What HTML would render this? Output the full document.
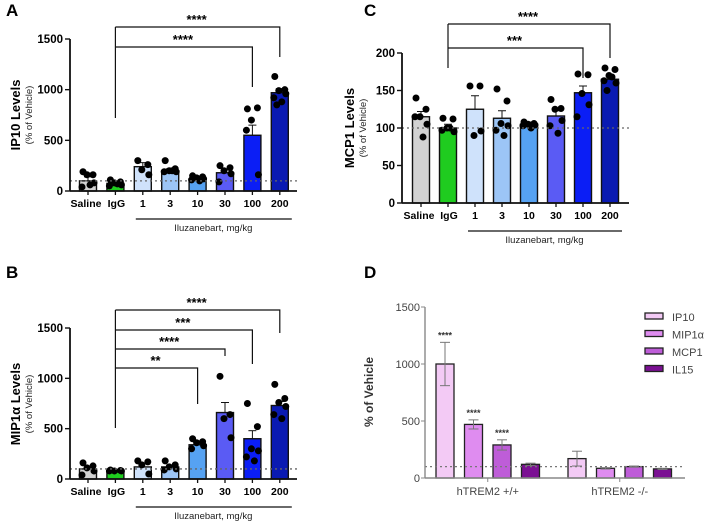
<!DOCTYPE html>
<html><head><meta charset="utf-8"><style>
body{margin:0;background:#fff;width:708px;height:523px;overflow:hidden}
svg{display:block;font-family:"Liberation Sans",Arial,sans-serif}
</style></head><body>
<svg id="s" width="708" height="523"></svg>
<script>
const cats = ["Saline","IgG","1","3","10","30","100","200"];
const barColors = ["#d2d2d2","#1fcc1f","#cfe2fb","#9cc5f6","#56a2f2","#5a5bf4","#0b1ef5","#0a1ab2"];
const aVals = [100,75,240,200,120,180,550,970];
const aErr = [40,15,40,20,15,35,100,40];
const aPts = [[190,160,160,80,40,60],[110,90,80,60,50,70],[300,260,210,160],[300,220,200,190,190,200],[150,140,130,120,110,100],[250,230,200,170,90],[810,820,700,160,600],[1130,1000,990,960,920,880,850]];
const cVals = [115,100,125,113,105,116,147,165];
const cErr = [7,5,18,10,3,7,9,4];
const cPts = [[140,125,115,105,115,88],[113,112,100,95,97,100],[156,156,90,96],[152,136,106,103,97,90],[108,106,105,104,103,100],[138,126,125,110,103,93],[172,171,146,131,115],[180,178,170,160,163,168,150]];
const bVals = [100,80,120,120,340,660,400,730];
const bErr = [20,10,30,20,25,100,80,40];
const bPts = [[160,130,110,80,40],[90,85,80,80,80],[180,170,140,50],[180,140,120,100,90],[400,370,360,330,300],[1020,640,600,410],[750,520,300,280,220,180],[940,800,760,720,640,600]];
const dGroups = ["hTREM2 +/+","hTREM2 -/-"];
const dSeries = ["IP10","MIP1α","MCP1","IL15"];
const dColors = ["#f3caf5","#df8cf0","#be5dd8","#7b1093"];
const dVals = [[1000,470,290,120],[170,85,100,80]];
const dErr = [[190,40,45,10],[65,6,5,5]];
const jit = [-5,5,-1,6,-6,2,-3];

const S=document.getElementById('s');const NS='http://www.w3.org/2000/svg';
function el(t,a,p){const e=document.createElementNS(NS,t);for(const k in a)e.setAttribute(k,a[k]);(p||S).appendChild(e);return e;}
function txt(x,y,s,a,p){const e=el('text',Object.assign({x:x,y:y},a),p);e.textContent=s;return e;}

function panel(o){
  const g=el('g',{});
  
  
  const y=v=>o.y0-(v/o.max)*(o.y0-o.y1);
  const x=i=>o.xs+i*o.step;
  const lab=txt(o.lx,o.ly,o.letter,{'font-size':17,'font-weight':'bold'},g);
  
  o.vals.forEach((v,i)=>{
    const r=el('rect',{x:x(i)-8.5,y:y(v),width:17,height:o.y0-y(v),fill:barColors[i],stroke:'#111','stroke-width':1.4},g);
    
    const e=o.err[i];
    el('line',{x1:x(i),x2:x(i),y1:y(v),y2:y(v+e),stroke:'#111','stroke-width':1},g);
    el('line',{x1:x(i)-4,x2:x(i)+4,y1:y(v+e),y2:y(v+e),stroke:'#111','stroke-width':1},g);
    o.pts[i].forEach((p,j)=>{
      const c=el('circle',{cx:x(i)+jit[j%jit.length],cy:y(p),r:3.5,fill:'#000'},g);
      
    });
  });
  el('line',{x1:o.ax,x2:o.axEnd,y1:y(100),y2:y(100),stroke:'#666','stroke-width':1.3,'stroke-dasharray':'2 3'},g);
  el('line',{x1:o.ax,x2:o.ax,y1:o.y1,y2:o.y0,stroke:'#111','stroke-width':1.8},g);
  el('line',{x1:o.ax,x2:o.axEnd,y1:o.y0,y2:o.y0,stroke:'#111','stroke-width':1.8},g);
  o.ticks.forEach(t=>{
    el('line',{x1:o.ax-5,x2:o.ax,y1:y(t),y2:y(t),stroke:'#111','stroke-width':1.4},g);
    txt(o.ax-7,y(t)+4,String(t),{'font-size':11.5,'font-weight':'bold','text-anchor':'end'},g);
  });
  cats.forEach((c,i)=>{
    el('line',{x1:x(i),x2:x(i),y1:o.y0,y2:o.y0+4,stroke:'#111','stroke-width':1.3},g);
    txt(x(i)+(i==0?-2:i==1?1:0),o.y0+16,c,{'font-size':10.5,'font-weight':'bold','text-anchor':'middle'},g);
  });
  el('line',{x1:x(2)-7,x2:x(7)+12,y1:o.y0+28,y2:o.y0+28,stroke:'#111','stroke-width':1.2},g);
  txt((x(2)+x(7))/2+2,o.y0+40,'Iluzanebart, mg/kg',{'font-size':9.5,'text-anchor':'middle',fill:'#222'},g);
  const yt=txt(0,0,o.ytitle,{'font-size':13,'font-weight':'bold','text-anchor':'middle',transform:`translate(${o.ytx},${o.ytc}) rotate(-90)`},g);
  
  txt(0,0,'(% of Vehicle)',{'font-size':9.5,'text-anchor':'middle',fill:'#222',transform:`translate(${o.ytx+12},${o.ytc}) rotate(-90)`},g);
  el('line',{x1:x(1),x2:x(1),y1:o.bLeft,y2:o.br[0].y,stroke:'#111','stroke-width':1.2},g);
  o.br.forEach(b=>{
    el('polyline',{points:`${x(1)},${b.y} ${x(b.to)},${b.y} ${x(b.to)},${b.drop}`,fill:'none',stroke:'#111','stroke-width':1.2},g);
    txt((x(1)+x(b.to))/2-1,b.y-3,b.s,{'font-size':13,'font-weight':'bold','text-anchor':'middle'},g);
  });
}
panel({name:'panel-a-ip10',letter:'A',lx:6,ly:16,vals:aVals,err:aErr,pts:aPts,max:1500,y0:191,y1:39,xs:88,step:27.4,ax:70,axEnd:297,ticks:[0,500,1000,1500],ytitle:'IP10 Levels',ytx:20,ytc:115,
 bLeft:118,br:[{y:27,to:7,drop:57,s:'****'},{y:47,to:6,drop:87,s:'****'}]});
panel({name:'panel-c-mcp1',letter:'C',lx:364,ly:16,vals:cVals,err:cErr,pts:cPts,max:200,y0:203,y1:53,xs:421,step:27,ax:402,axEnd:629,ticks:[0,50,100,150,200],ytitle:'MCP1 Levels',ytx:354,ytc:128,
 bLeft:68,br:[{y:24,to:7,drop:58,s:'****'},{y:48,to:6,drop:78,s:'***'}]});
panel({name:'panel-b-mip1a',letter:'B',lx:6,ly:278,vals:bVals,err:bErr,pts:bPts,max:1500,y0:479,y1:328,xs:88,step:27.4,ax:70,axEnd:297,ticks:[0,500,1000,1500],ytitle:'MIP1α Levels',ytx:20,ytc:404,
 bLeft:428,br:[{y:310,to:7,drop:333,s:'****'},{y:330,to:6,drop:364,s:'***'},{y:349,to:5,drop:356,s:'****'},{y:368,to:4,drop:404,s:'**'}]});

(function(){
  const g=el('g',{});
  
  
  const y0=478,y1=307,max=1500,ax=425,axEnd=685;
  const y=v=>y0-(v/max)*(y0-y1);
  const gx=[445,577],step=28.5;
  txt(364,278,'D',{'font-size':17,'font-weight':'bold'},g);
  dGroups.forEach((gn,gi)=>{
    dSeries.forEach((sn,si)=>{
      const cx=gx[gi]+si*step,v=dVals[gi][si],e=dErr[gi][si];
      const r=el('rect',{x:cx-9,y:y(v),width:18,height:y0-y(v),fill:dColors[si],stroke:'#222','stroke-width':1.3},g);
      
      el('line',{x1:cx,x2:cx,y1:y(v-e),y2:y(v+e),stroke:'#777','stroke-width':1},g);
      el('line',{x1:cx-5,x2:cx+5,y1:y(v+e),y2:y(v+e),stroke:'#777','stroke-width':1},g);
      el('line',{x1:cx-5,x2:cx+5,y1:y(v-e),y2:y(v-e),stroke:'#777','stroke-width':1},g);
      if(gi==0&&si<3) txt(cx,y(v+e)-4,'****',{'font-size':9,'font-weight':'bold','text-anchor':'middle',fill:'#333'},g);
    });
    const mid=gx[gi]+1.5*step;
    el('line',{x1:mid,x2:mid,y1:y0,y2:y0+4,stroke:'#888'},g);
    txt(mid,y0+17,gn,{'font-size':11,'text-anchor':'middle',fill:'#444'},g);
  });
  el('line',{x1:ax,x2:axEnd,y1:y(100),y2:y(100),stroke:'#777','stroke-width':1.3,'stroke-dasharray':'2 3'},g);
  el('line',{x1:ax,x2:ax,y1:y1,y2:y0,stroke:'#888','stroke-width':1.4},g);
  el('line',{x1:ax,x2:axEnd,y1:y0,y2:y0,stroke:'#888','stroke-width':1.4},g);
  [0,500,1000,1500].forEach(t=>{
    el('line',{x1:ax-4,x2:ax,y1:y(t),y2:y(t),stroke:'#888'},g);
    txt(ax-5,y(t)+4,String(t),{'font-size':11,'text-anchor':'end',fill:'#444'},g);
  });
  txt(0,0,'% of  Vehicle',{'font-size':12,'font-weight':'bold','text-anchor':'middle',fill:'#333',transform:'translate(373,392) rotate(-90)'},g);
  dSeries.forEach((sn,si)=>{
    const ly=317+si*17.5;
    const lg=el('g',{},g);
    
    el('rect',{x:645,y:ly-4,width:18,height:6,fill:dColors[si],stroke:'#222','stroke-width':1.3},lg);
    txt(672,ly+4,sn,{'font-size':11,fill:'#444'},lg);
  });
})();
</script>
</body></html>
